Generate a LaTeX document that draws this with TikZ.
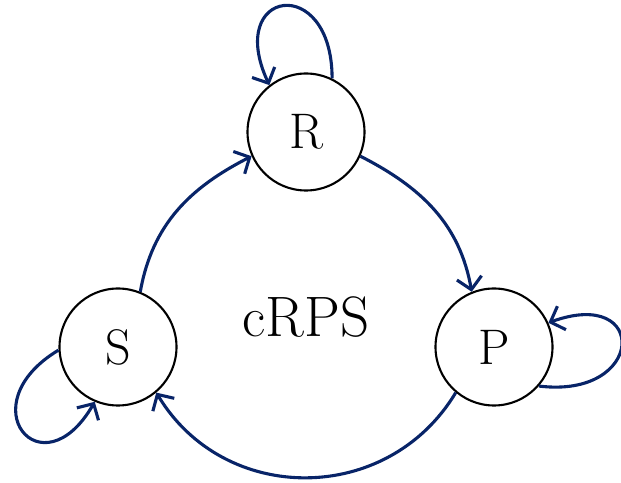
\documentclass[tikz,border=0pt]{standalone}
\usetikzlibrary{arrows.meta}
\definecolor{navy}{RGB}{8,36,104}
\begin{document}
\begin{tikzpicture}[x=1pt,y=1pt,
  state/.style={circle,draw=black,line width=2.1pt,minimum size=117pt,
    inner sep=0pt,font=\fontsize{50}{56}\selectfont},
  trans/.style={draw=navy,line width=3.1pt,
    -{Straight Barb[length=12pt,width=25pt]}}]
\useasboundingbox (0,0) rectangle (621,482);
% states
\node[state] (R) at (306,350) {R};
\node[state] (S) at (118,135) {S};
\node[state] (P) at (494,135) {P};
\node[font=\fontsize{57}{63}\selectfont] (name) at (306,165) {cRPS};
% cycle S -> R -> P -> S
\path[trans] (S.68) to[out=80,in=207] (R.204);
\path[trans] (R.-24) to[out=-27,in=100] (P.112);
\path[trans] (P.230) to[out=239,in=-59,looseness=1.13] (S.-50);
% self loops
\path[trans] (R.64) to[out=90,in=115,looseness=4.3] (R.128);
\path[trans] (S.183) to[out=211,in=240,looseness=4.3] (S.247);
\path[trans] (P.-41) to[out=-7,in=20,looseness=4.3] (P.24);
\end{tikzpicture}
\end{document}
